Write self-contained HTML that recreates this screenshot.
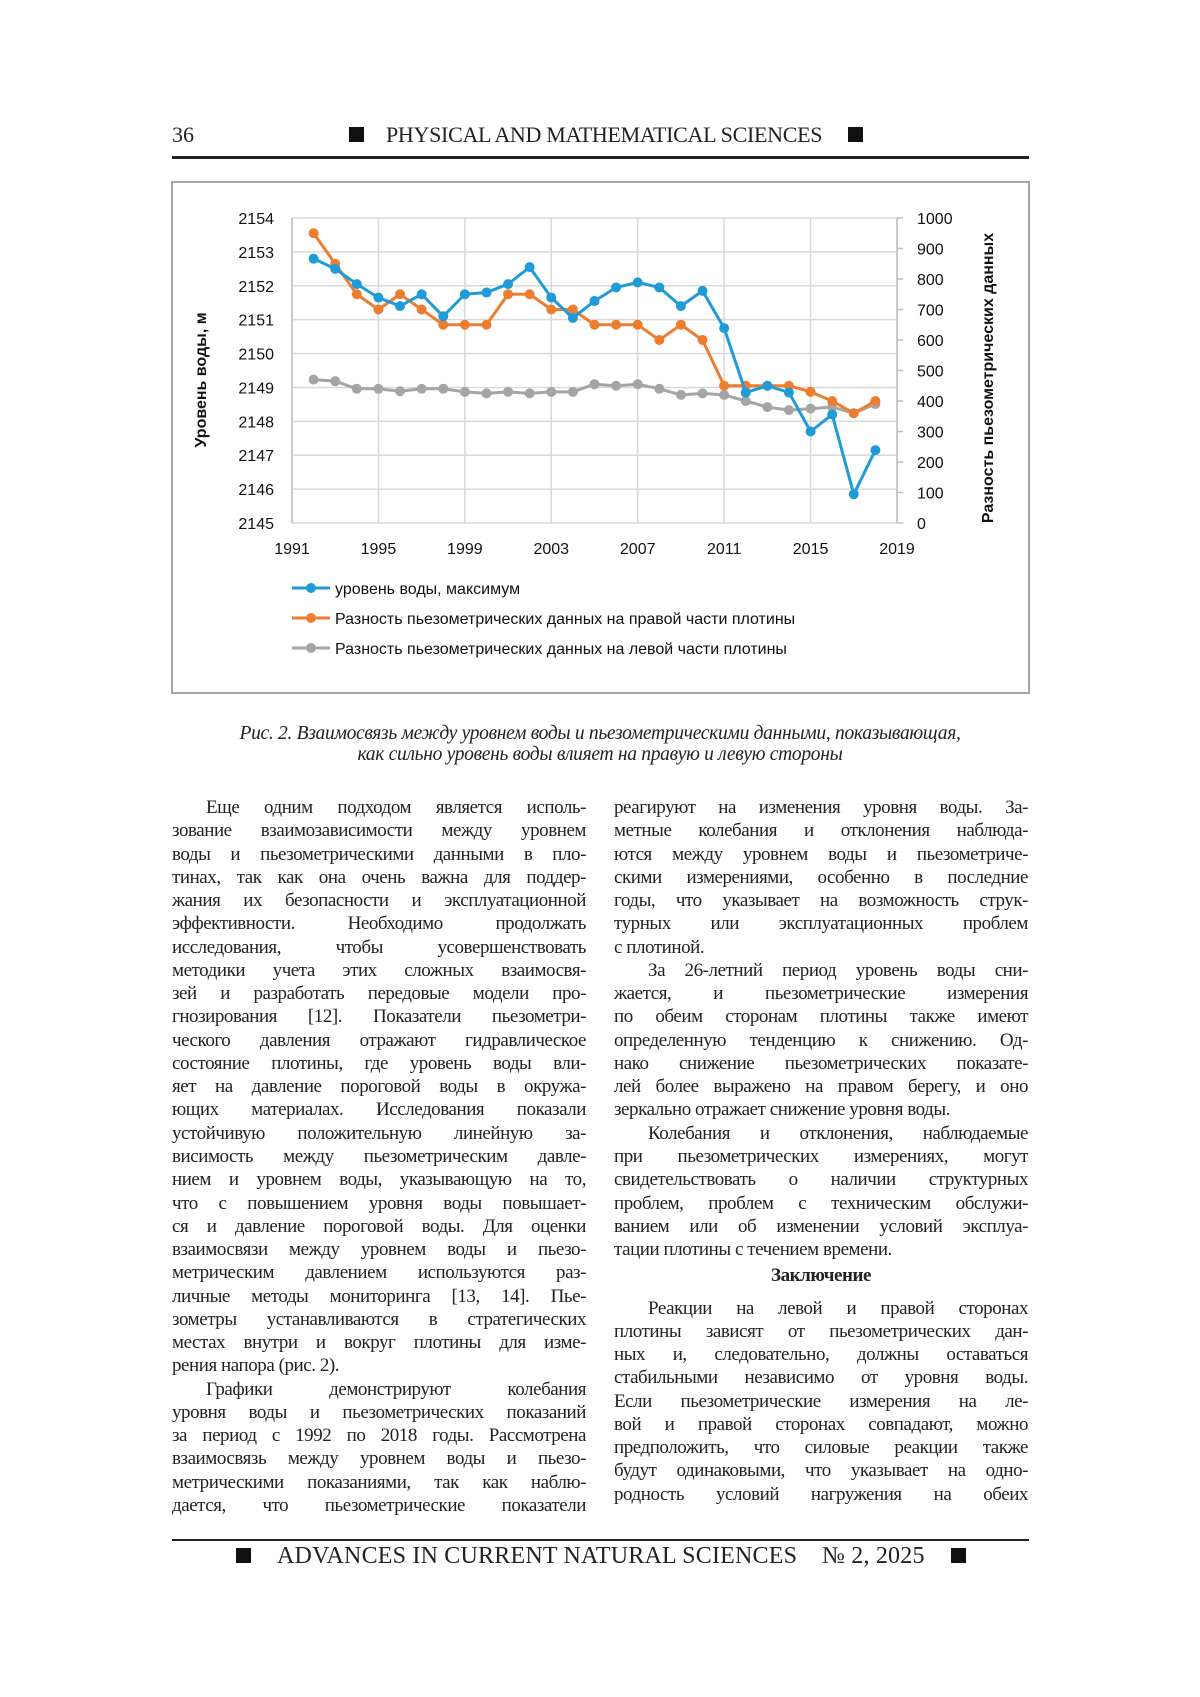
<!DOCTYPE html>
<html><head><meta charset="utf-8">
<style>
body{margin:0;background:#fff;}
#page{position:relative;width:1200px;height:1697px;background:#fff;overflow:hidden;font-family:"Liberation Serif","DejaVu Serif",serif;color:#222;}
.hdr{position:absolute;font-size:22px;top:122px;}
.col{position:absolute;font-size:19px;letter-spacing:-0.45px;line-height:23.27px;}
.col div{text-align:justify;text-align-last:justify;white-space:nowrap;}
.col div.l{text-align-last:left;}
.col div.c{text-align:center;text-align-last:center;font-weight:bold;}
.ind{text-indent:34px;}
.cap{position:absolute;left:150px;width:900px;text-align:center;font-style:italic;font-size:19.5px;line-height:21px;top:723px;letter-spacing:-0.3px;}
svg text{font-family:"Liberation Sans","DejaVu Sans",sans-serif;}
</style></head><body>
<div id="page">
<div class="hdr" style="left:172px;">36</div>
<div class="hdr" style="left:349px;letter-spacing:-0.3px;"><span style="display:inline-block;width:15px;height:15px;background:#111;margin-right:22px;"></span>PHYSICAL AND MATHEMATICAL SCIENCES<span style="display:inline-block;width:15px;height:15px;background:#111;margin-left:26px;"></span></div>
<div style="position:absolute;left:172px;top:156px;width:857px;height:3px;background:#222;"></div>

<svg id="chart" style="position:absolute;left:0;top:0" width="1200" height="720"></svg>

<div class="cap">Рис. 2. Взаимосвязь между уровнем воды и пьезометрическими данными, показывающая,<br>как сильно уровень воды влияет на правую и левую стороны</div>

<div class="col" style="left:172px;width:414px;top:796px;">
<div class="ind">Еще одним подходом является исполь-</div>
<div>зование взаимозависимости между уровнем</div>
<div>воды и пьезометрическими данными в пло-</div>
<div>тинах, так как она очень важна для поддер-</div>
<div>жания их безопасности и эксплуатационной</div>
<div>эффективности. Необходимо продолжать</div>
<div>исследования, чтобы усовершенствовать</div>
<div>методики учета этих сложных взаимосвя-</div>
<div>зей и разработать передовые модели про-</div>
<div>гнозирования [12]. Показатели пьезометри-</div>
<div>ческого давления отражают гидравлическое</div>
<div>состояние плотины, где уровень воды вли-</div>
<div>яет на давление пороговой воды в окружа-</div>
<div>ющих материалах. Исследования показали</div>
<div>устойчивую положительную линейную за-</div>
<div>висимость между пьезометрическим давле-</div>
<div>нием и уровнем воды, указывающую на то,</div>
<div>что с повышением уровня воды повышает-</div>
<div>ся и давление пороговой воды. Для оценки</div>
<div>взаимосвязи между уровнем воды и пьезо-</div>
<div>метрическим давлением используются раз-</div>
<div>личные методы мониторинга [13, 14]. Пье-</div>
<div>зометры устанавливаются в стратегических</div>
<div>местах внутри и вокруг плотины для изме-</div>
<div class="l">рения напора (рис. 2).</div>
<div class="ind">Графики демонстрируют колебания</div>
<div>уровня воды и пьезометрических показаний</div>
<div>за период с 1992 по 2018 годы. Рассмотрена</div>
<div>взаимосвязь между уровнем воды и пьезо-</div>
<div>метрическими показаниями, так как наблю-</div>
<div>дается, что пьезометрические показатели</div>
</div>

<div class="col" style="left:614px;width:414px;top:796px;">
<div>реагируют на изменения уровня воды. За-</div>
<div>метные колебания и отклонения наблюда-</div>
<div>ются между уровнем воды и пьезометриче-</div>
<div>скими измерениями, особенно в последние</div>
<div>годы, что указывает на возможность струк-</div>
<div>турных или эксплуатационных проблем</div>
<div class="l">с плотиной.</div>
<div class="ind">За 26-летний период уровень воды сни-</div>
<div>жается, и пьезометрические измерения</div>
<div>по обеим сторонам плотины также имеют</div>
<div>определенную тенденцию к снижению. Од-</div>
<div>нако снижение пьезометрических показате-</div>
<div>лей более выражено на правом берегу, и оно</div>
<div class="l">зеркально отражает снижение уровня воды.</div>
<div class="ind">Колебания и отклонения, наблюдаемые</div>
<div>при пьезометрических измерениях, могут</div>
<div>свидетельствовать о наличии структурных</div>
<div>проблем, проблем с техническим обслужи-</div>
<div>ванием или об изменении условий эксплуа-</div>
<div class="l">тации плотины с течением времени.</div>
<div class="c" style="margin:3px 0 9px;">Заключение</div>
<div class="ind">Реакции на левой и правой сторонах</div>
<div>плотины зависят от пьезометрических дан-</div>
<div>ных и, следовательно, должны оставаться</div>
<div>стабильными независимо от уровня воды.</div>
<div>Если пьезометрические измерения на ле-</div>
<div>вой и правой сторонах совпадают, можно</div>
<div>предположить, что силовые реакции также</div>
<div>будут одинаковыми, что указывает на одно-</div>
<div>родность условий нагружения на обеих</div>
</div>

<div style="position:absolute;left:172px;top:1539px;width:857px;height:2px;background:#222;"></div>
<div class="hdr" style="left:236px;top:1543px;font-size:24px;letter-spacing:0.2px;"><span style="display:inline-block;width:15px;height:15px;background:#111;margin-right:26px;"></span>ADVANCES IN CURRENT NATURAL SCIENCES &nbsp;&nbsp;&nbsp;№ 2, 2025<span style="display:inline-block;width:15px;height:15px;background:#111;margin-left:26px;"></span></div>
</div>

<script>
const years=[1992,1993,1994,1995,1996,1997,1998,1999,2000,2001,2002,2003,2004,2005,2006,2007,2008,2009,2010,2011,2012,2013,2014,2015,2016,2017,2018];
const waterLevel=[2152.8,2152.5,2152.05,2151.65,2151.4,2151.75,2151.1,2151.75,2151.8,2152.05,2152.55,2151.65,2151.05,2151.55,2151.95,2152.1,2151.95,2151.4,2151.85,2150.75,2148.85,2149.05,2148.85,2147.7,2148.2,2145.85,2147.15];
const rightSide=[950,850,750,700,750,700,650,650,650,750,750,700,700,650,650,650,600,650,600,450,450,450,450,430,400,360,400];
const leftSide=[470,465,440,440,432,440,440,430,425,430,425,430,430,455,450,455,440,420,425,420,400,380,370,375,380,360,390];
const xTicks=[1991,1995,1999,2003,2007,2011,2015,2019];
const yLeftTicks=[2145,2146,2147,2148,2149,2150,2151,2152,2153,2154];
const yRightTicks=[0,100,200,300,400,500,600,700,800,900,1000];
const legendLabels=["уровень воды, максимум","Разность пьезометрических данных на правой части плотины","Разность пьезометрических данных на левой части плотины"];

const NS="http://www.w3.org/2000/svg";
const svg=document.getElementById('chart');
const L=292,R=897,T=218,B=523;
const x=v=>L+(v-1991)/(2019-1991)*(R-L);
const yL=v=>B-(v-2145)/(2154-2145)*(B-T);
const yR=v=>B-v/1000*(B-T);
function mk(tag,attrs,parent){const e=document.createElementNS(NS,tag);for(const k in attrs)e.setAttribute(k,attrs[k]);(parent||svg).appendChild(e);return e;}

const box=mk('rect',{x:172,y:182,width:857,height:511,fill:'none',stroke:'#a6a6a6','stroke-width':2});



yLeftTicks.forEach(v=>{
  const g=mk('line',{x1:L,x2:R,y1:yL(v),y2:yL(v),stroke:'#d9d9d9','stroke-width':1.5});
  
  
  const t=mk('text',{x:274,y:yL(v)+6,'text-anchor':'end','font-size':16,fill:'#111'});
  t.textContent=v;
  
  
});
xTicks.forEach(v=>{
  const g=mk('line',{x1:x(v),x2:x(v),y1:T,y2:B,stroke:'#d9d9d9','stroke-width':1.5});
  
  
  const t=mk('text',{x:x(v),y:554,'text-anchor':'middle','font-size':16,fill:'#111'});
  t.textContent=v;
  
  
});
yRightTicks.forEach(v=>{
  const k=mk('line',{x1:R,x2:R+6,y1:yR(v),y2:yR(v),stroke:'#bfbfbf','stroke-width':1.5});
  
  
  const t=mk('text',{x:917,y:yR(v)+6,'text-anchor':'start','font-size':16,fill:'#111'});
  t.textContent=v;
  
  
});
const ax=mk('line',{x1:L,x2:L,y1:T,y2:B,stroke:'#bfbfbf','stroke-width':1.5});


const ax2=mk('line',{x1:R,x2:R,y1:T,y2:B,stroke:'#bfbfbf','stroke-width':1.5});



const t1=mk('text',{x:0,y:0,transform:'translate(206,380) rotate(-90)','text-anchor':'middle','font-size':16,'font-weight':'bold',fill:'#111'});
t1.textContent='Уровень воды, м';


const t2=mk('text',{x:0,y:0,transform:'translate(993,378) rotate(-90)','text-anchor':'middle','font-size':16,'font-weight':'bold',fill:'#111'});
t2.textContent='Разность пьезометрических данных';



function series(vals,yf,color,name){
  const pts=vals.map((v,i)=>x(years[i])+','+yf(v)).join(' ');
  const pl=mk('polyline',{points:pts,fill:'none',stroke:color,'stroke-width':3,'stroke-linejoin':'round'});
  
  
  vals.forEach((v,i)=>{
    const c=mk('circle',{cx:x(years[i]),cy:yf(v),r:5,fill:color});
    
    
  });
}
series(leftSide,yR,'#a5a5a5','left-side-series');
series(rightSide,yR,'#ed7d31','right-side-series');
series(waterLevel,yL,'#1f9bd7','water-level-series');

const colors=['#1f9bd7','#ed7d31','#a5a5a5'];
const legendY=[588,618,648];
legendLabels.forEach((lab,i)=>{
  const ln=mk('line',{x1:292,x2:330,y1:legendY[i],y2:legendY[i],stroke:colors[i],'stroke-width':3});
  
  
  const c=mk('circle',{cx:311,cy:legendY[i],r:5,fill:colors[i]});
  
  
  const t=mk('text',{x:335,y:legendY[i]+6,'font-size':16,fill:'#111'});
  t.textContent=lab;
  
  
});
</script>
</body></html>
